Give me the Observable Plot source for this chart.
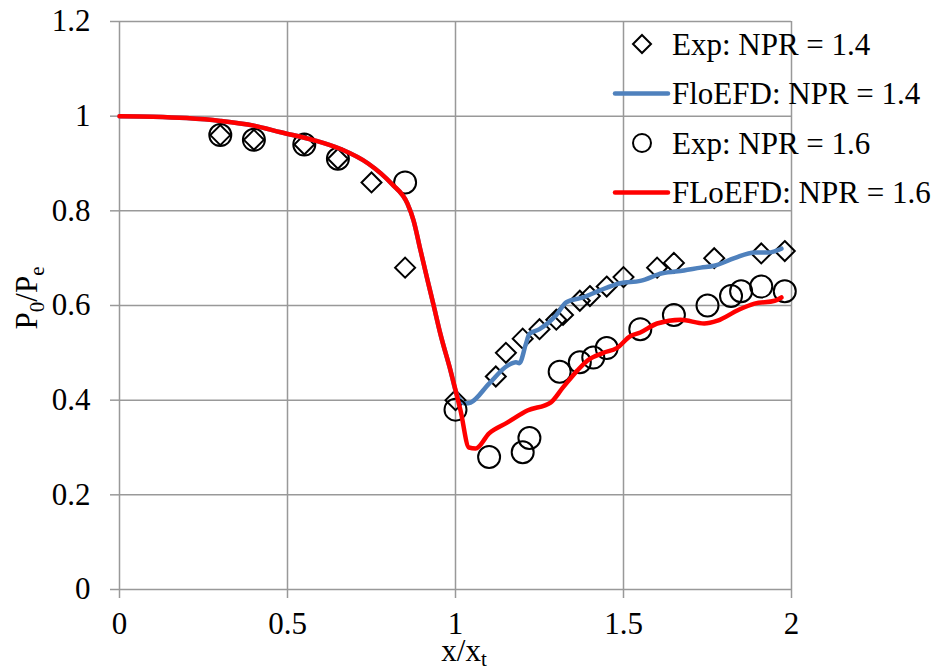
<!DOCTYPE html>
<html>
<head>
<meta charset="utf-8">
<script src="https://cdn.jsdelivr.net/npm/d3@7"></script>
<script src="https://cdn.jsdelivr.net/npm/@observablehq/plot@0.6"></script>
<style>
  html, body { margin: 0; padding: 0; background: white; }
  #chart { position: relative; width: 946px; height: 671px; }
  #chart svg text, #chart svg tspan { font-family: "Liberation Serif", "Times New Roman", serif; }
</style>
</head>
<body>
<div id="chart"></div>
<script>
// ---- data ----
const xTicks = [0, 0.5, 1, 1.5, 2];
const yTicks = [0, 0.2, 0.4, 0.6, 0.8, 1, 1.2];

const expX14 = [0.3, 0.4, 0.55, 0.65, 0.75, 0.85, 1.0, 1.12, 1.15, 1.2, 1.25, 1.30, 1.32, 1.37, 1.40, 1.45, 1.50, 1.60, 1.65, 1.77, 1.91, 1.98];
const expY14 = [0.96, 0.95, 0.94, 0.91, 0.86, 0.68, 0.40, 0.45, 0.50, 0.53, 0.55, 0.57, 0.58, 0.61, 0.62, 0.64, 0.66, 0.68, 0.69, 0.70, 0.71, 0.715];

const expX16 = [0.3, 0.4, 0.55, 0.65, 0.85, 1.0, 1.10, 1.20, 1.22, 1.31, 1.37, 1.41, 1.45, 1.55, 1.65, 1.75, 1.82, 1.85, 1.91, 1.98];
const expY16 = [0.96, 0.95, 0.94, 0.91, 0.86, 0.38, 0.28, 0.29, 0.32, 0.46, 0.48, 0.49, 0.51, 0.55, 0.58, 0.60, 0.62, 0.63, 0.64, 0.63];

const cfdX14 = [0, 0.1, 0.2, 0.3, 0.4, 0.48, 0.58, 0.66, 0.74, 0.81, 0.857, 0.875, 0.896, 0.917, 0.935, 0.955, 0.985, 1.005, 1.03, 1.045, 1.10, 1.155, 1.18, 1.19, 1.21, 1.22, 1.25, 1.30, 1.33, 1.38, 1.43, 1.49, 1.55, 1.615, 1.68, 1.73, 1.77, 1.83, 1.89, 1.93, 1.97];
const cfdY14 = [1.0, 0.999, 0.996, 0.99, 0.98, 0.966, 0.949, 0.93, 0.90, 0.857, 0.815, 0.78, 0.716, 0.653, 0.60, 0.54, 0.463, 0.41, 0.393, 0.395, 0.435, 0.473, 0.48, 0.478, 0.52, 0.54, 0.55, 0.58, 0.607, 0.617, 0.632, 0.647, 0.652, 0.668, 0.674, 0.68, 0.684, 0.70, 0.712, 0.712, 0.72];

const cfdX16 = [0, 0.1, 0.2, 0.3, 0.4, 0.48, 0.58, 0.66, 0.74, 0.81, 0.857, 0.875, 0.896, 0.917, 0.935, 0.955, 0.985, 1.015, 1.04, 1.06, 1.10, 1.155, 1.214, 1.283, 1.32, 1.363, 1.393, 1.44, 1.48, 1.52, 1.55, 1.60, 1.67, 1.74, 1.78, 1.84, 1.89, 1.95, 1.97];
const cfdY16 = [1.0, 0.999, 0.996, 0.99, 0.98, 0.966, 0.949, 0.93, 0.90, 0.857, 0.815, 0.78, 0.716, 0.653, 0.60, 0.54, 0.463, 0.378, 0.30, 0.298, 0.33, 0.353, 0.378, 0.395, 0.427, 0.463, 0.484, 0.50, 0.51, 0.535, 0.543, 0.562, 0.57, 0.562, 0.568, 0.59, 0.604, 0.61, 0.617];

const legendLabels = ["Exp: NPR = 1.4", "FloEFD: NPR = 1.4", "Exp: NPR = 1.6", "FLoEFD: NPR = 1.6"];
const legendKinds = ["diamond", "blue", "circle", "red"];

// ---- build tables ----
const zip = (xs, ys) => xs.map((x, i) => ({x, y: ys[i]}));
const exp14 = zip(expX14, expY14);
const exp16 = zip(expX16, expY16);
const cfd14 = zip(cfdX14, cfdY14);
const cfd16 = zip(cfdX16, cfdY16);

const BLUE = "#4f81bd";
const RED = "#ff0000";
const GRID = "#999999";
const FONT = "Liberation Serif, Times New Roman, serif";
const FS = 31;
const SUB = 21;

const chart = Plot.plot({
  width: 946,
  height: 671,
  marginLeft: 119,
  marginRight: 155,
  marginTop: 21,
  marginBottom: 82,
  style: {fontFamily: FONT, fontSize: FS + "px", color: "black", background: "white", overflow: "visible"},
  x: {domain: [0, 2], ticks: xTicks, label: null},
  y: {domain: [0, 1.2], ticks: yTicks, label: null},
  marks: [
    Plot.gridX(xTicks.filter(d => d > 0), {stroke: GRID, strokeOpacity: 1, strokeWidth: 1.5}),
    Plot.gridY(yTicks.filter(d => d > 0), {stroke: GRID, strokeOpacity: 1, strokeWidth: 1.5}),
    Plot.ruleX([0], {stroke: GRID, strokeWidth: 1.5}),
    Plot.ruleY([0], {stroke: GRID, strokeWidth: 1.5}),
    Plot.axisX({ticks: xTicks, tickSize: 9, tickPadding: 13, stroke: GRID, strokeWidth: 1.5, fontSize: FS, tickFormat: d => String(d), label: null}),
    Plot.axisY({ticks: yTicks, tickSize: 9, tickPadding: 20, stroke: GRID, strokeWidth: 1.5, fontSize: FS, tickFormat: d => String(d), label: null}),
    Plot.dot(exp14, {x: "x", y: "y", symbol: "diamond2", r: 9, stroke: "black", strokeWidth: 2, fill: "none"}),
    Plot.line(cfd14, {x: "x", y: "y", stroke: BLUE, strokeWidth: 4.5, curve: "monotone-x"}),
    Plot.dot(exp16, {x: "x", y: "y", symbol: "circle", r: 11, stroke: "black", strokeWidth: 2, fill: "none"}),
    Plot.line(cfd16, {x: "x", y: "y", stroke: RED, strokeWidth: 4.5, curve: "monotone-x"})
  ]
});
document.getElementById("chart").appendChild(chart);

// ---- axis titles with subscripts ----
const svg = d3.select(chart);
const yt = svg.append("text")
  .attr("transform", "translate(37,298) rotate(-90)")
  .attr("text-anchor", "middle")
  .attr("font-size", FS).attr("fill", "black");
yt.append("tspan").text("P");
yt.append("tspan").attr("font-size", SUB).attr("dy", 7).text("0");
yt.append("tspan").attr("dy", -7).text("/P");
yt.append("tspan").attr("font-size", SUB).attr("dy", 7).text("e");

const xt = svg.append("text")
  .attr("x", 464).attr("y", 661)
  .attr("text-anchor", "middle")
  .attr("font-size", FS).attr("fill", "black");
xt.append("tspan").text("x/x");
xt.append("tspan").attr("font-size", SUB).attr("dy", 5).text("t");

// ---- legend ----
const lg = svg.append("g").attr("font-size", FS).attr("text-anchor", "start");
legendLabels.forEach((label, i) => {
  const cy = 44 + i * 49.5;
  const kind = legendKinds[i];
  if (kind === "diamond") {
    const s = 9;
    lg.append("path").attr("d", `M642,${cy - s}L${642 + s},${cy}L642,${cy + s}L${642 - s},${cy}Z`)
      .attr("fill", "none").attr("stroke", "black").attr("stroke-width", 2);
  } else if (kind === "circle") {
    lg.append("circle").attr("cx", 642).attr("cy", cy).attr("r", 9)
      .attr("fill", "none").attr("stroke", "black").attr("stroke-width", 2);
  } else {
    lg.append("line").attr("x1", 615).attr("x2", 668).attr("y1", cy).attr("y2", cy)
      .attr("stroke", kind === "blue" ? BLUE : RED).attr("stroke-width", 4.5).attr("stroke-linecap", "round");
  }
  lg.append("text").attr("x", 672).attr("y", cy).attr("dy", "0.35em").attr("fill", "black").text(label);
});
</script>
</body>
</html>
